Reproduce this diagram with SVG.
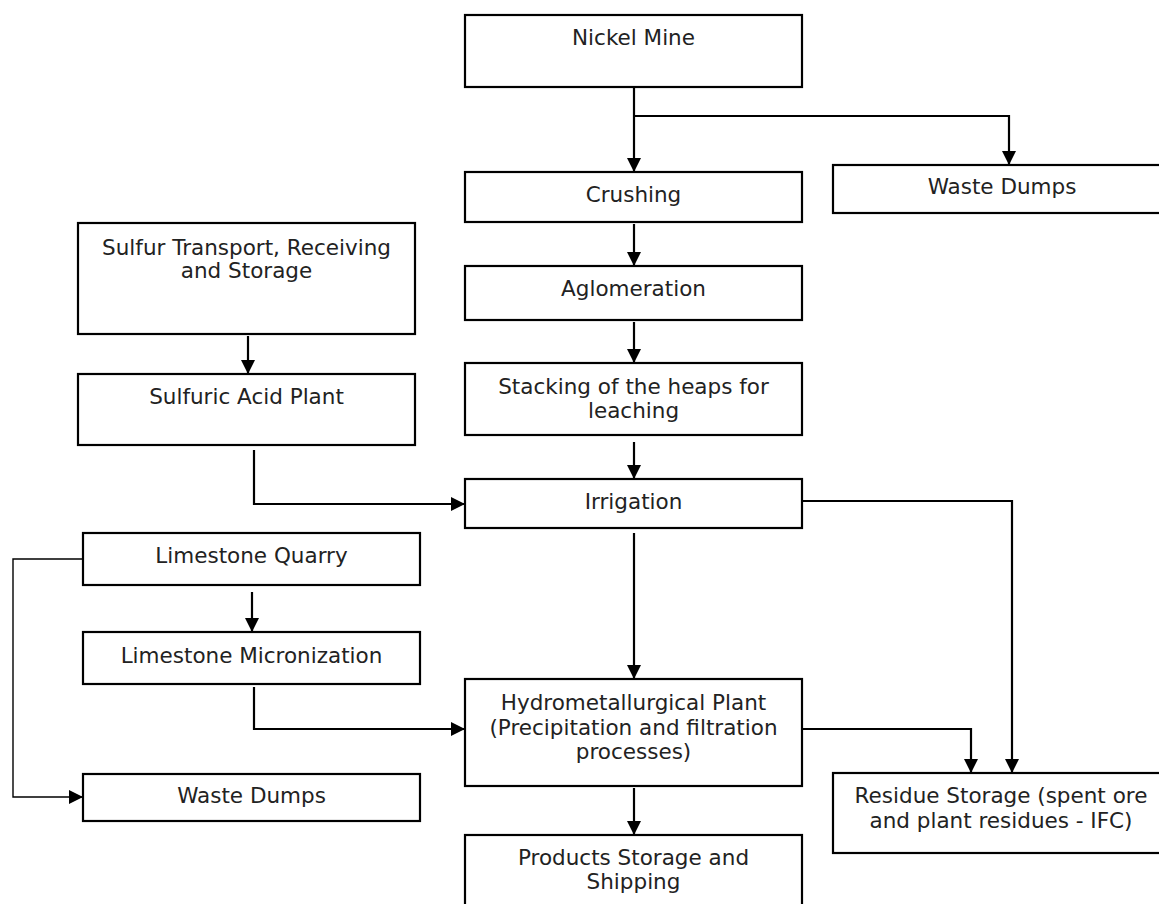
<svg xmlns="http://www.w3.org/2000/svg" width="1159" height="904" viewBox="0 0 1159 904">
<style>
.box{fill:#fff;stroke:#000;stroke-width:2.2}
.t{font-family:"DejaVu Sans",Verdana,sans-serif;font-size:21.5px;fill:#222;text-anchor:middle}
.c{fill:none;stroke:#000;stroke-width:2.2}
.thin{fill:none;stroke:#000;stroke-width:1.4}
</style>
<defs>
<marker id="ah" markerUnits="userSpaceOnUse" markerWidth="14" markerHeight="14" refX="14" refY="7" orient="auto" viewBox="0 0 14 14">
<path d="M0,0 L14,7 L0,14 z" fill="#000"/>
</marker>
</defs>
<rect width="1159" height="904" fill="#fff"/>
<g id="connectors">
<path class="c" d="M634,87 V172" marker-end="url(#ah)"/>
<path class="c" d="M634,116 H1009 V165" marker-end="url(#ah)"/>
<path class="c" d="M634,224 V266" marker-end="url(#ah)"/>
<path class="c" d="M634,322 V363" marker-end="url(#ah)"/>
<path class="c" d="M634,442 V479" marker-end="url(#ah)"/>
<path class="c" d="M248,336 V374" marker-end="url(#ah)"/>
<path class="c" d="M254,450 V504 H465" marker-end="url(#ah)"/>
<path class="c" d="M634,533 V679" marker-end="url(#ah)"/>
<path class="c" d="M802,501 H1012 V773" marker-end="url(#ah)"/>
<path class="c" d="M802,729 H971 V773" marker-end="url(#ah)"/>
<path class="c" d="M252,592 V632" marker-end="url(#ah)"/>
<path class="c" d="M254,687 V729 H465" marker-end="url(#ah)"/>
<path class="thin" d="M83,559 H13 V797 H83" marker-end="url(#ah)"/>
<path class="c" d="M634,788 V835" marker-end="url(#ah)"/>
</g>
<g id="nickel-mine"><rect class="box" x="465" y="15" width="337" height="72"/><text class="t" x="633.5" y="45">Nickel Mine</text></g>
<g id="crushing"><rect class="box" x="465" y="172" width="337" height="50"/><text class="t" x="633.5" y="202">Crushing</text></g>
<g id="waste-dumps-top"><rect class="box" x="833" y="165" width="337" height="48"/><text class="t" x="1002" y="194">Waste Dumps</text></g>
<g id="sulfur-transport"><rect class="box" x="78" y="223" width="337" height="111"/><text class="t" x="246.5" y="255">Sulfur Transport, Receiving</text><text class="t" x="246.5" y="278">and Storage</text></g>
<g id="aglomeration"><rect class="box" x="465" y="266" width="337" height="54"/><text class="t" x="633.5" y="296">Aglomeration</text></g>
<g id="sulfuric-acid-plant"><rect class="box" x="78" y="374" width="337" height="71"/><text class="t" x="246.5" y="404">Sulfuric Acid Plant</text></g>
<g id="stacking"><rect class="box" x="465" y="363" width="337" height="72"/><text class="t" x="633.5" y="394">Stacking of the heaps for</text><text class="t" x="633.5" y="418">leaching</text></g>
<g id="irrigation"><rect class="box" x="465" y="479" width="337" height="49"/><text class="t" x="633.5" y="509">Irrigation</text></g>
<g id="limestone-quarry"><rect class="box" x="83" y="533" width="337" height="52"/><text class="t" x="251.5" y="563">Limestone Quarry</text></g>
<g id="limestone-micronization"><rect class="box" x="83" y="632" width="337" height="52"/><text class="t" x="251.5" y="663">Limestone Micronization</text></g>
<g id="hydrometallurgical-plant"><rect class="box" x="465" y="679" width="337" height="107"/><text class="t" x="633.5" y="710">Hydrometallurgical Plant</text><text class="t" x="633.5" y="735">(Precipitation and filtration</text><text class="t" x="633.5" y="759">processes)</text></g>
<g id="waste-dumps-left"><rect class="box" x="83" y="774" width="337" height="47"/><text class="t" x="251.5" y="803">Waste Dumps</text></g>
<g id="residue-storage"><rect class="box" x="833" y="773" width="337" height="80"/><text class="t" x="1001" y="803">Residue Storage (spent ore</text><text class="t" x="1001" y="828">and plant residues - IFC)</text></g>
<g id="products-storage"><rect class="box" x="465" y="835" width="337" height="80"/><text class="t" x="633.5" y="865">Products Storage and</text><text class="t" x="633.5" y="889">Shipping</text></g>
</svg>
